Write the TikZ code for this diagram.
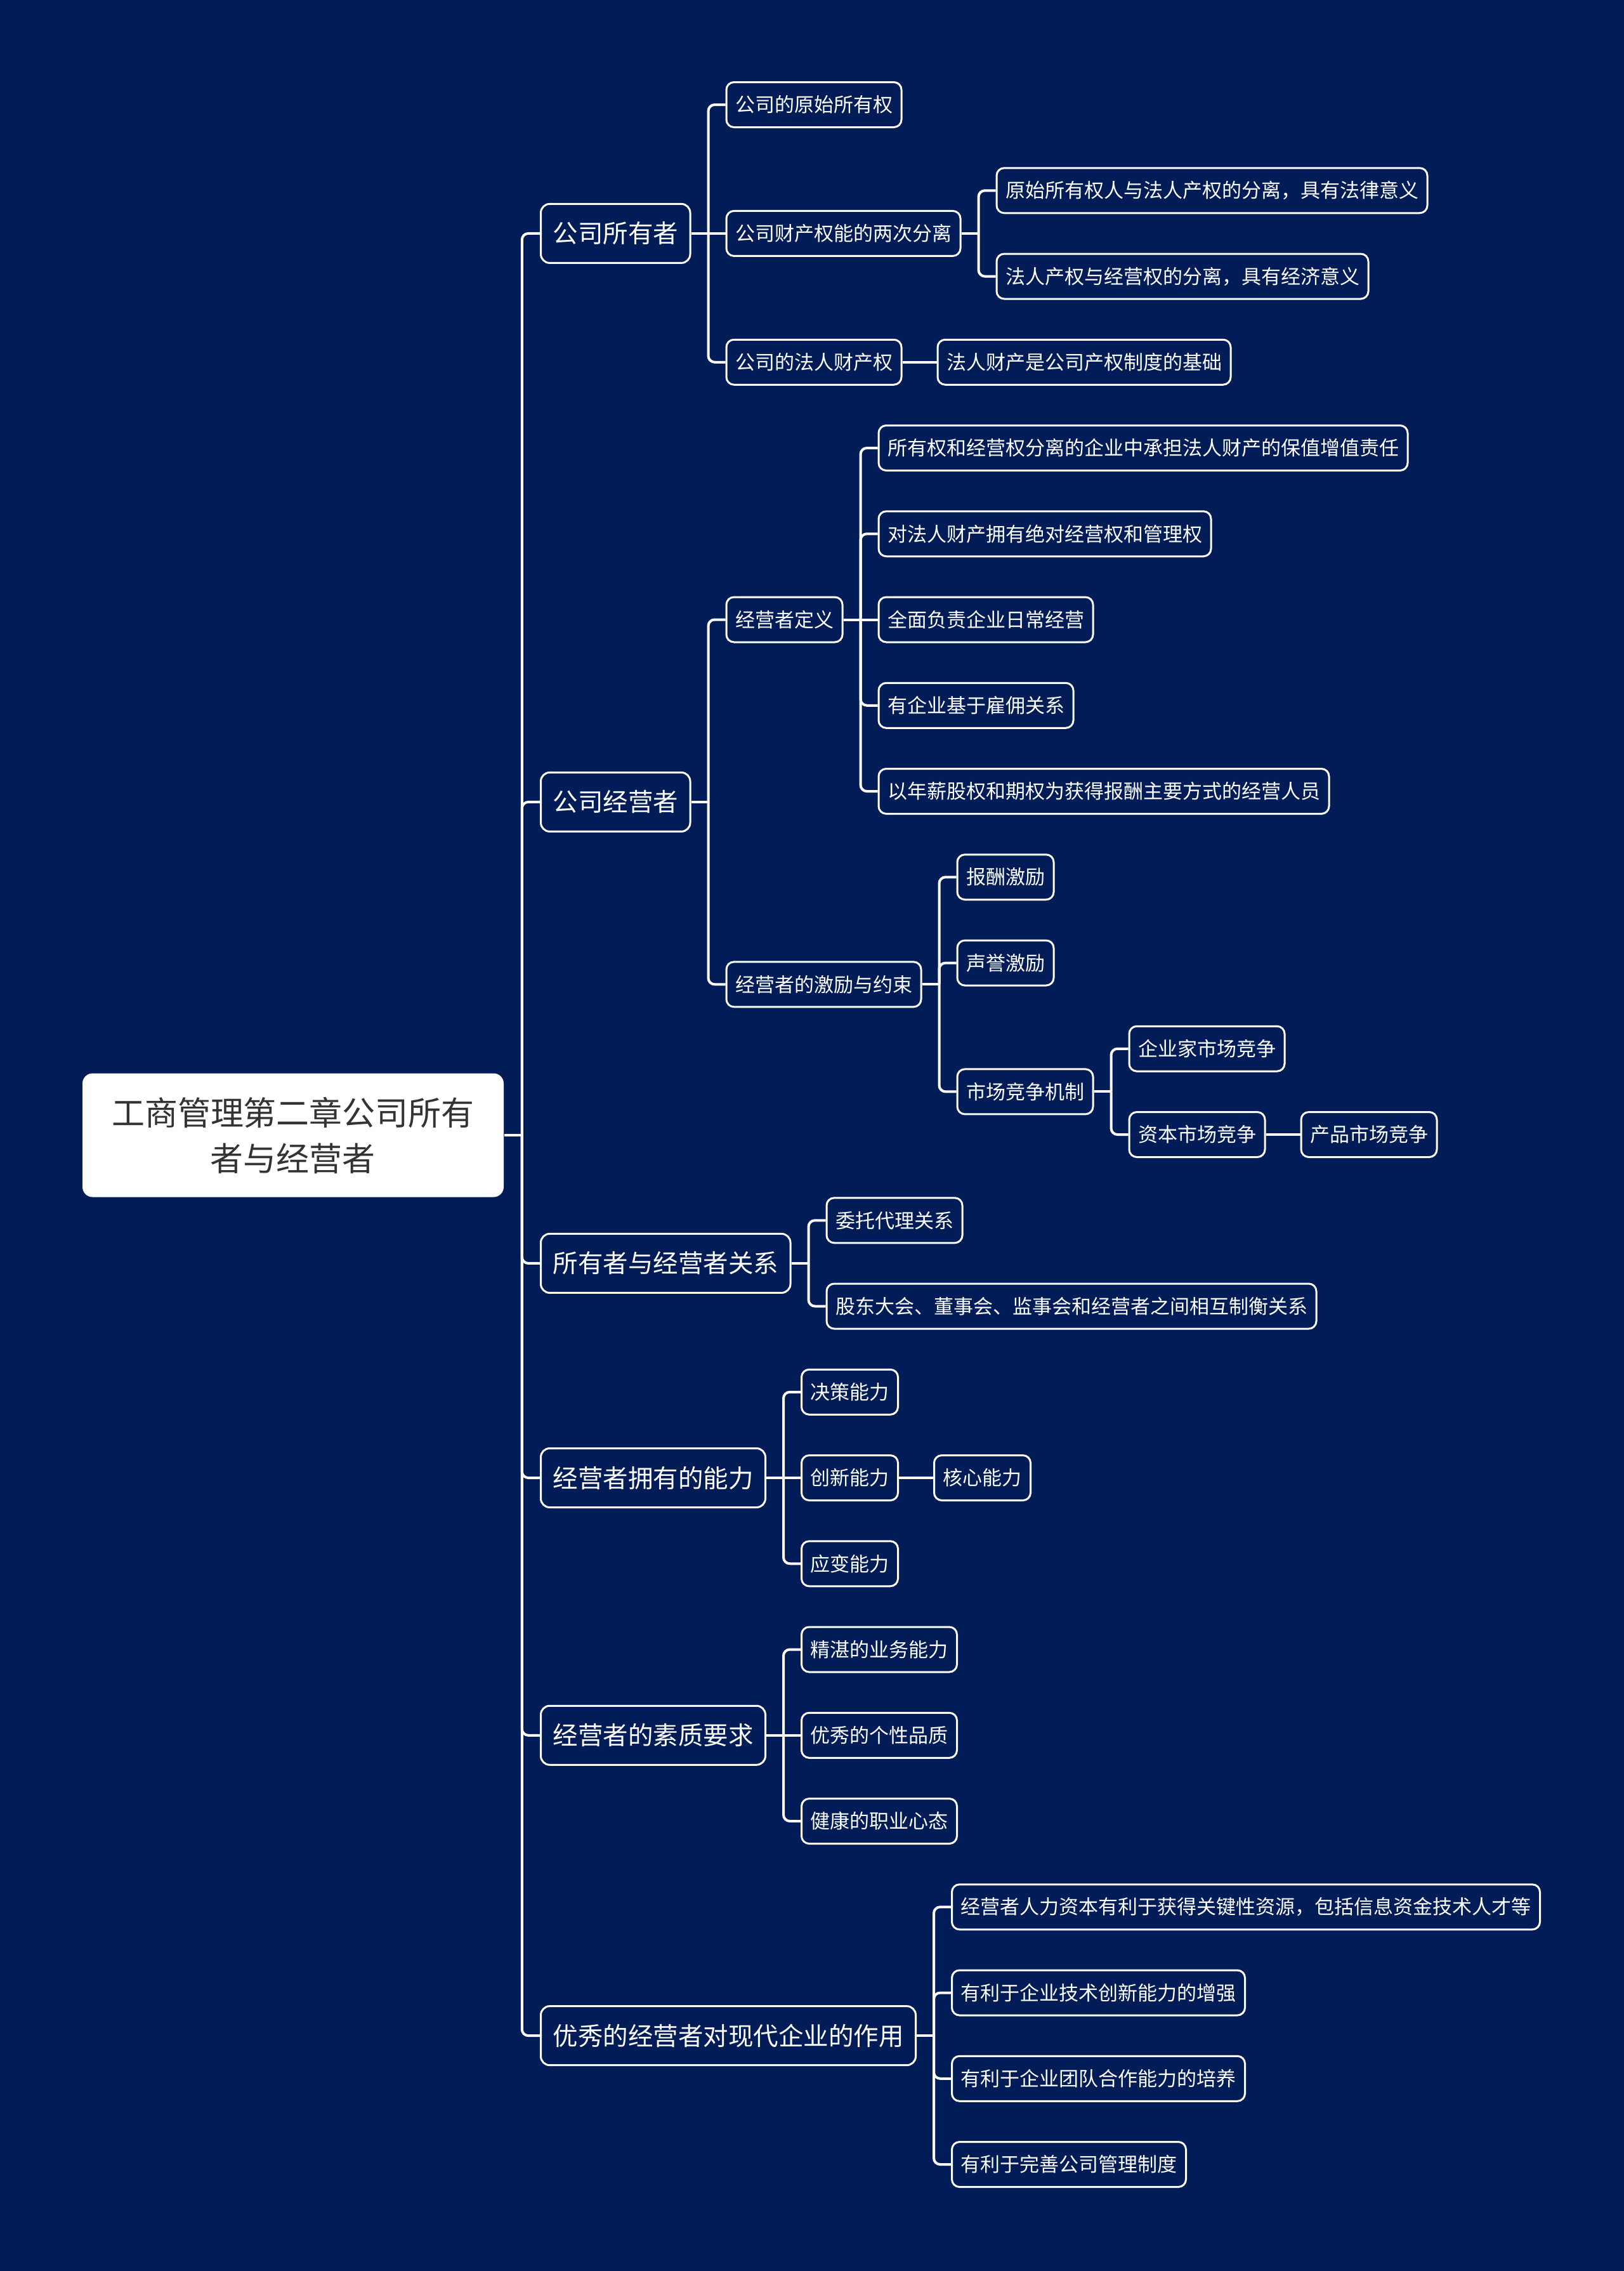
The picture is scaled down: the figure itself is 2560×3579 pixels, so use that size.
\documentclass[tikz,border=0pt]{standalone}
\usepackage{fontspec}
\newfontfamily\cjk{Noto Sans CJK SC}
\definecolor{bgc}{RGB}{2,28,87}
\definecolor{roottext}{RGB}{51,51,51}
\newcommand\stub[1]{\draw[conn] (#1.east) -- ++(6.75pt,0);}
\newcommand\br[2]{\draw[conn] (#1.east) ++(6.75pt,0) |- (#2.west);}
\newcommand\st[2]{\draw[conn] (#1.east) -- (#2.west);}
\begin{document}
\begin{tikzpicture}[x=0.25pt,y=-0.25pt,
  conn/.style={draw=white,line width=1pt,rounded corners=2.5pt},
  leaf/.style={draw=white,line width=0.75pt,fill=bgc,text=white,rounded corners=3pt,
    minimum height=17.75pt,inner xsep=3.5pt,inner ysep=0pt,anchor=west,xshift=13.5pt,
    font=\cjk\fontsize{7.75pt}{9pt}\selectfont},
  lvA/.style={draw=white,line width=0.75pt,fill=bgc,text=white,rounded corners=3.5pt,
    minimum height=23.25pt,inner xsep=4.75pt,inner ysep=0pt,anchor=west,
    font=\cjk\fontsize{9.875pt}{12pt}\selectfont},
  rootbox/.style={fill=white,text=roottext,rounded corners=4pt,minimum width=166pt,
    minimum height=48.75pt,align=center,inner sep=0pt,
    font=\cjk\fontsize{13pt}{18pt}\selectfont}]
\fill[bgc] (0,0) rectangle (2560,3579);
\useasboundingbox (0,0) rectangle (2560,3579);

\node[rootbox] (root) at (462,1789) {工商管理第二章公司所有\\者与经营者};

\node[lvA] (A) at (851,367.9) {公司所有者};
\node[lvA] (B) at (851,1263.9) {公司经营者};
\node[lvA] (C) at (851,1990.9) {所有者与经营者关系};
\node[lvA] (D) at (851,2329) {经营者拥有的能力};
\node[lvA] (E) at (851,2734.75) {经营者的素质要求};
\node[lvA] (F) at (851,3208.1) {优秀的经营者对现代企业的作用};

\node[leaf] (A1) at (A.east |- 0,165) {公司的原始所有权};
\node[leaf] (A2) at (A.east |- 0,367.9) {公司财产权能的两次分离};
\node[leaf] (A3) at (A.east |- 0,570.75) {公司的法人财产权};
\node[leaf] (A21) at (A2.east |- 0,300.25) {原始所有权人与法人产权的分离，具有法律意义};
\node[leaf] (A22) at (A2.east |- 0,435.5) {法人产权与经营权的分离，具有经济意义};
\node[leaf] (A31) at (A3.east |- 0,570.75) {法人财产是公司产权制度的基础};

\node[leaf] (B1) at (B.east |- 0,976.5) {经营者定义};
\node[leaf] (B2) at (B.east |- 0,1551.3) {经营者的激励与约束};
\node[leaf] (B11) at (B1.east |- 0,706) {所有权和经营权分离的企业中承担法人财产的保值增值责任};
\node[leaf] (B12) at (B1.east |- 0,841.25) {对法人财产拥有绝对经营权和管理权};
\node[leaf] (B13) at (B1.east |- 0,976.5) {全面负责企业日常经营};
\node[leaf] (B14) at (B1.east |- 0,1111.75) {有企业基于雇佣关系};
\node[leaf] (B15) at (B1.east |- 0,1247) {以年薪股权和期权为获得报酬主要方式的经营人员};
\node[leaf] (B21) at (B2.east |- 0,1382.25) {报酬激励};
\node[leaf] (B22) at (B2.east |- 0,1517.5) {声誉激励};
\node[leaf] (B23) at (B2.east |- 0,1720.4) {市场竞争机制};
\node[leaf] (B231) at (B23.east |- 0,1652.75) {企业家市场竞争};
\node[leaf] (B232) at (B23.east |- 0,1788) {资本市场竞争};
\node[leaf] (B2321) at (B232.east |- 0,1788) {产品市场竞争};

\node[leaf] (C1) at (C.east |- 0,1923.25) {委托代理关系};
\node[leaf] (C2) at (C.east |- 0,2058.5) {股东大会、董事会、监事会和经营者之间相互制衡关系};

\node[leaf] (D1) at (D.east |- 0,2193.75) {决策能力};
\node[leaf] (D2) at (D.east |- 0,2329) {创新能力};
\node[leaf] (D3) at (D.east |- 0,2464.25) {应变能力};
\node[leaf] (D21) at (D2.east |- 0,2329) {核心能力};

\node[leaf] (E1) at (E.east |- 0,2599.5) {精湛的业务能力};
\node[leaf] (E2) at (E.east |- 0,2734.75) {优秀的个性品质};
\node[leaf] (E3) at (E.east |- 0,2870) {健康的职业心态};

\node[leaf] (F1) at (F.east |- 0,3005.25) {经营者人力资本有利于获得关键性资源，包括信息资金技术人才等};
\node[leaf] (F2) at (F.east |- 0,3140.5) {有利于企业技术创新能力的增强};
\node[leaf] (F3) at (F.east |- 0,3275.75) {有利于企业团队合作能力的培养};
\node[leaf] (F4) at (F.east |- 0,3411) {有利于完善公司管理制度};

% root connectors
\draw[conn] (root.east) -- ++(7pt,0);
\foreach \n in {A,B,C,D,E,F}{\draw[conn] (root.east) ++(7pt,0) |- (\n.west);}

% A
\stub{A} \br{A}{A1} \st{A}{A2} \br{A}{A3}
\stub{A2} \br{A2}{A21} \br{A2}{A22}
\st{A3}{A31}
% B
\stub{B} \br{B}{B1} \br{B}{B2}
\stub{B1} \br{B1}{B11} \br{B1}{B12} \st{B1}{B13} \br{B1}{B14} \br{B1}{B15}
\stub{B2} \br{B2}{B21} \br{B2}{B22} \br{B2}{B23}
\stub{B23} \br{B23}{B231} \br{B23}{B232}
\st{B232}{B2321}
% C
\stub{C} \br{C}{C1} \br{C}{C2}
% D
\stub{D} \br{D}{D1} \st{D}{D2} \br{D}{D3}
\st{D2}{D21}
% E
\stub{E} \br{E}{E1} \st{E}{E2} \br{E}{E3}
% F
\stub{F} \br{F}{F1} \br{F}{F2} \br{F}{F3} \br{F}{F4}
\end{tikzpicture}
\end{document}
